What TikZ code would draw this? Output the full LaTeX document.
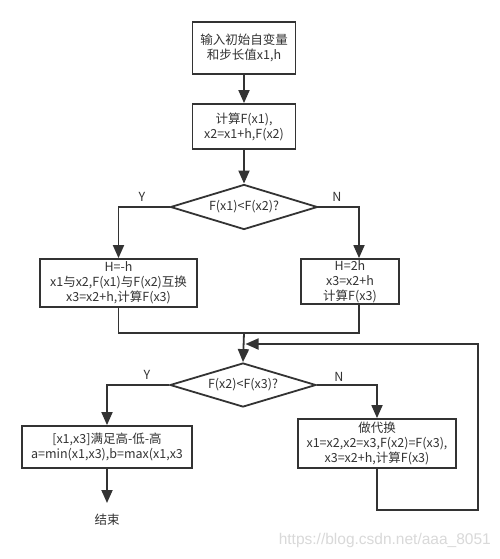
\documentclass[tikz,border=0pt]{standalone}
\usepackage{fontspec}
\setmainfont{Noto Sans CJK SC}
\newfontfamily\wmfont{Liberation Sans}
\usetikzlibrary{arrows.meta,shapes.geometric}
\definecolor{ink}{HTML}{333333}
\tikzset{
  box/.style={draw=ink,line width=1.8pt,rectangle,align=center,inner sep=0pt,text=ink,font=\fontsize{12.5}{15}\selectfont},
  dia/.style={draw=ink,line width=1.8pt,diamond,aspect=3.3,inner sep=0pt,text=ink,font=\fontsize{12.5}{15}\selectfont},
  line/.style={draw=ink,line width=1.8pt},
  arr/.style={line,-{Triangle[width=11pt,length=13pt]}},
  lbl/.style={text=ink,font=\fontsize{12.5}{14}\selectfont,inner sep=0pt}
}
\begin{document}
\begin{tikzpicture}[x=1pt,y=-1pt]
\useasboundingbox[fill=white] (0,0) rectangle (500,559);
\node[box,minimum width=103pt,minimum height=52pt] (b1) at (244,48) {输入初始自变量\\和步长值x1,h};
\node[box,minimum width=103pt,minimum height=45pt] (b2) at (244,126.5) {计算F(x1),\\x2=x1+h,F(x2)};
\node[dia,minimum width=147pt,minimum height=45pt] (d1) at (244,207) {F(x1)<F(x2)?};
\node[box,minimum width=157pt,minimum height=48pt] (l1) at (118.5,283) {H=-h\\x1与x2,F(x1)与F(x2)互换\\x3=x2+h,计算F(x3)};
\node[box,minimum width=98pt,minimum height=45pt] (r1) at (350,281.5) {H=2h\\x3=x2+h\\计算F(x3)};
\node[dia,minimum width=146pt,minimum height=44pt] (d2) at (243,385) {F(x2)<F(x3)?};
\node[box,minimum width=170pt,minimum height=42pt] (l2) at (107,447) {[x1,x3]满足高-低-高\\a=min(x1,x3),b=max(x1,x3};
\node[box,minimum width=158pt,minimum height=49pt] (r2) at (377,443.5) {做代换\\x1=x2,x2=x3,F(x2)=F(x3),\\x3=x2+h,计算F(x3)};
\node[lbl] (end) at (107,520) {结束};
\node[lbl] (y1) at (142,197) {Y};
\node[lbl] (n1) at (337,197) {N};
\node[lbl] (y2) at (147,375) {Y};
\node[lbl] (n2) at (339,377) {N};
\node[anchor=east,inner sep=0pt,text=black!15,font=\wmfont\fontsize{15.5}{17}\selectfont] (wm) at (491,540) {https://blog.csdn.net/aaa\_8051};
\coordinate (rn) at (359,0);
\coordinate (m) at (244,333);
\coordinate (lp) at (478,510);
\coordinate (mt) at (245.5,344);
\coordinate (ep) at (107,503);
\draw[arr] (b1) -- (b2);
\draw[arr] (b2) -- (d1);
\draw[arr] (d1.west) -| (l1.north);
\draw[arr] (d1.east) -| (rn |- r1.north);
\draw[line] (l1.south) |- (m);
\draw[line] (rn |- r1.south) |- (m);
\draw[arr] (m) -- (d2.north);
\draw[arr] (d2.west) -| (l2.north);
\draw[arr] (d2.east) -| (r2.north);
\draw[arr] (r2.south) |- (lp) |- (mt);
\draw[arr] (l2.south) -- (ep);
\end{tikzpicture}
\end{document}
